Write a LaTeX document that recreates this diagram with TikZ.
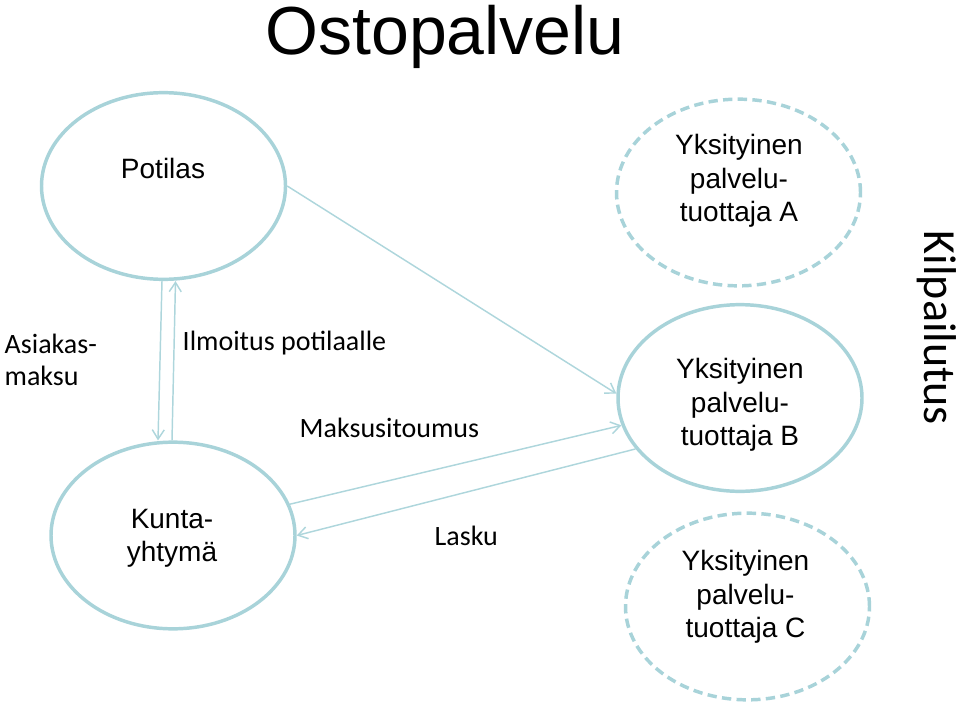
\documentclass[tikz,border=0pt]{standalone}
\usepackage{fontspec}
\setmainfont{Liberation Sans}
\newfontfamily\calibfont{Carlito}
\usepackage{xcolor}
\usetikzlibrary{arrows.meta,calc,shapes.geometric}
\definecolor{ringBlue}{HTML}{A8D3D9}
\definecolor{flowBlue}{HTML}{AED6DC}

\begin{document}
\begin{tikzpicture}[x=0.75pt, y=-0.75pt, >={Straight Barb[length=7pt,width=9pt]},
  party/.style={ellipse,draw=ringBlue,line width=2.6pt,minimum width=183pt,minimum height=140pt,inner sep=0pt},
  rival/.style={party,dash pattern=on 7pt off 4pt},
  partytext/.style={font=\fontsize{21}{25}\selectfont,align=center},
  flowtext/.style={font=\calibfont\fontsize{21}{24}\selectfont},
  flow/.style={flowBlue,line width=1.1pt,->}]
\useasboundingbox (0,0) rectangle (960,706);
% --- title ---
\node[anchor=base,font=\fontsize{51}{60}\selectfont,inner sep=0pt] (title) at (445,55) {Ostopalvelu};
% --- parties ---
\node[party] (pot) at (163.5,186) {};
\node[party] (kun) at (173,535.5) {};
\node[rival] (provA) at (738.5,192.5) {};
\node[party] (provB) at (740,398) {};
\node[rival] (provC) at (747.5,606.5) {};
\node[partytext,anchor=base] (potTxt) at (163,179) {Potilas};
\node[partytext] (kunTxt) at (172,538) {Kunta-\\yhtymä};
\node[partytext] (provAtxt) at (739,181) {Yksityinen\\palvelu-\\tuottaja A};
\node[partytext] (provBtxt) at (740,405) {Yksityinen\\palvelu-\\tuottaja B};
\node[partytext] (provCtxt) at (745.5,597) {Yksityinen\\palvelu-\\tuottaja C};
% --- flows ---
\draw[flow] ($(pot.south)+(-1.5,0)$) -- ($(kun.north)+(-15,0)$);
\draw[flow] ($(kun.north)+(-1,0)$) -- ($(pot.south)+(12,0)$);
\draw[flow] (pot.east) -- (provB.178);
\draw[flow] (kun.15) -- (provB.193);
\draw[flow] (provB.206) -- (kun.east);
% --- labels ---
\node[flowtext,align=left,anchor=west] (fee) at (0,360) {Asiakas-\\maksu};
\node[flowtext,anchor=base west] (notice) at (178,350) {Ilmoitus potilaalle};
\node[flowtext,anchor=base west] (commit) at (295,437) {Maksusitoumus};
\node[flowtext,anchor=base west] (bill) at (430,545) {Lasku};
\node[font=\calibfont\fontsize{34.5}{40}\selectfont,rotate=-90] (tender) at (937,328) {Kilpailutus};
\end{tikzpicture}
\end{document}
